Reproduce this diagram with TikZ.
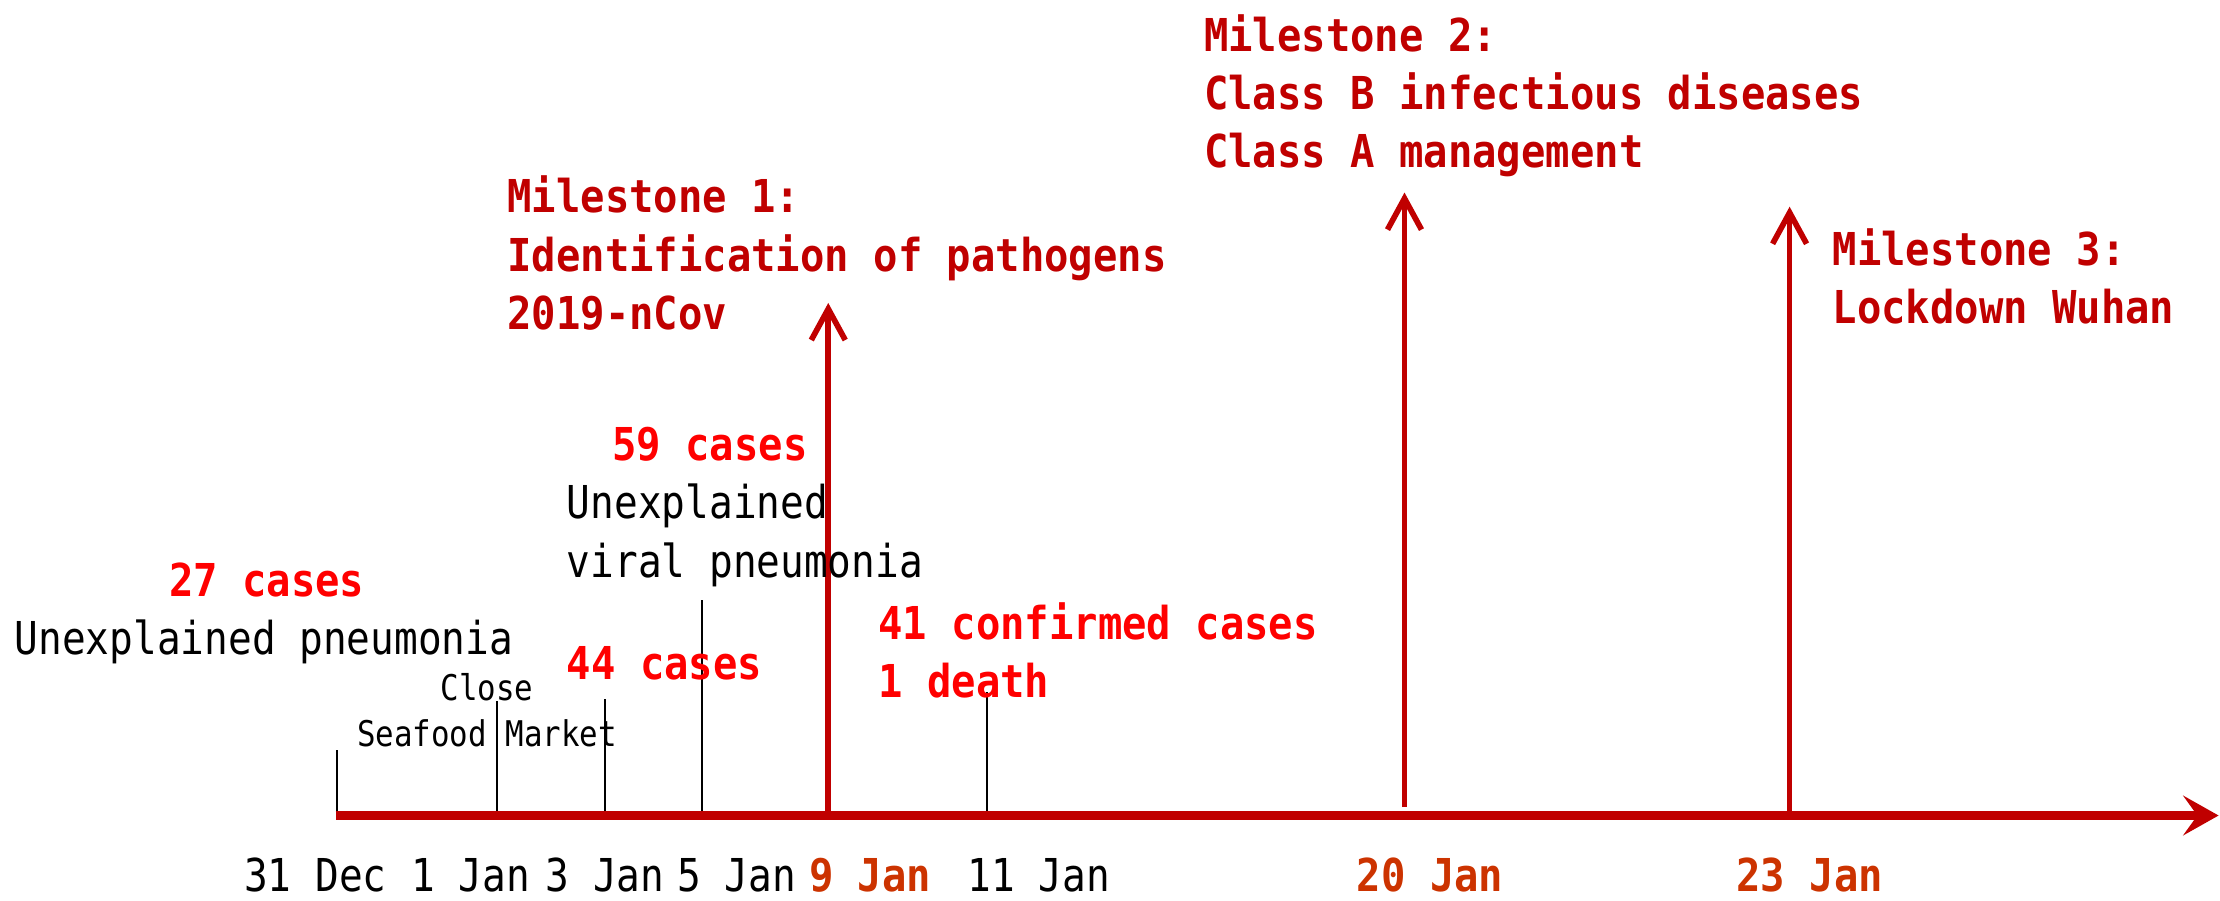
\documentclass[tikz,border=0pt]{standalone}
\usepackage{fontspec}
\newfontfamily\simfont[FakeStretch=0.87, BoldFeatures={FakeStretch=0.895}]{DejaVu Sans Mono}
\usetikzlibrary{arrows.meta}
\definecolor{msred}{RGB}{192,0,0}
\definecolor{casered}{RGB}{255,0,0}
\definecolor{dayred}{RGB}{204,51,0}

\begin{document}
\begin{tikzpicture}[
            x=0.5pt, y=-0.5pt,
            every node/.style={inner sep=0pt, font=\simfont\fontsize{16}{21}\selectfont},
            cases/.style={text=casered, font=\simfont\bfseries\fontsize{16}{20.5}\selectfont},
            milestone/.style={text=msred, align=left, anchor=north west, font=\simfont\bfseries\fontsize{16}{20.5}\selectfont},
            day/.style={anchor=base west},
            keyday/.style={anchor=base west, text=dayred, font=\simfont\bfseries\fontsize{16}{21}\selectfont},
            small/.style={font=\simfont\fontsize{12.5}{16.5}\selectfont},
            tick/.style={draw, line width=0.75pt},
            timeline/.style={draw=msred, line width=3pt, -{Stealth[length=12.5pt,width=14pt,inset=5pt]}},
            milearrow/.style={draw=msred, line width=2pt, -{Straight Barb[length=11pt,width=12pt]}}
            ]
            \useasboundingbox (0,0) rectangle (1568,636);

            % points on the time axis
            \coordinate (start) at (237,576);
            \coordinate (finish) at (1567,576);
            \coordinate (dec31) at (238,578);
            \coordinate (jan1) at (351,578);
            \coordinate (jan3) at (427,578);
            \coordinate (jan5) at (496,578);
            \coordinate (jan9) at (585,579);
            \coordinate (jan11) at (697,574);
            \coordinate (jan20) at (992,570);
            \coordinate (jan23) at (1264,579);

            % ends of the ticks and arrows
            \coordinate (dec31top) at (238,530);
            \coordinate (jan1top) at (351,495);
            \coordinate (jan3top) at (427,494);
            \coordinate (jan5top) at (496,424);
            \coordinate (jan11top) at (697,489);
            \coordinate (jan9tip) at (585,214);
            \coordinate (jan20tip) at (992,136);
            \coordinate (jan23tip) at (1264,146);

            \draw[tick] (dec31) -- (dec31top);
            \draw[tick] (jan1) -- (jan1top);
            \draw[tick] (jan3) -- (jan3top);
            \draw[tick] (jan5) -- (jan5top);
            \draw[tick] (jan11) -- (jan11top);

            \draw[timeline] (start) -- (finish);

            \draw[milearrow] (jan9) -- (jan9tip);
            \draw[milearrow] (jan20) -- (jan20tip);
            \draw[milearrow] (jan23) -- (jan23tip);

            % dates
            \node[day] (ldec31) at (172,630) {31 Dec};
            \node[day] (ljan1) at (290,630) {1 Jan};
            \node[day] (ljan3) at (385,630) {3 Jan};
            \node[day] (ljan5) at (478,630) {5 Jan};
            \node[keyday] (ljan9) at (571,630) {9 Jan};
            \node[day] (ljan11) at (683,630) {11 Jan};
            \node[keyday] (ljan20) at (958,630) {20 Jan};
            \node[keyday] (ljan23) at (1226,630) {23 Jan};

            % events
            \node[cases, anchor=base west] (c27) at (119,421) {27 cases};
            \node[anchor=base west] (unexp) at (10,462) {Unexplained pneumonia};
            \node[small, align=center, anchor=north] (market) at (344,475) {Close\\Seafood Market};
            \node[cases, anchor=base west] (c44) at (400,480) {44 cases};
            \node[cases, anchor=base west] (c59) at (432,325) {59 cases};
            \node[align=left, anchor=north west] (viral) at (400,341) {Unexplained\\viral pneumonia};
            \node[cases, align=left, anchor=north west] (c41) at (620,425) {41 confirmed cases\\1 death};

            % milestones
            \node[milestone] (ms1) at (358,124) {Milestone 1:\\Identification of pathogens\\2019-nCov};
            \node[milestone] (ms2) at (850,10) {Milestone 2:\\Class B infectious diseases\\Class A management};
            \node[milestone] (ms3) at (1294,161) {Milestone 3:\\Lockdown Wuhan};
        \end{tikzpicture}
\end{document}
